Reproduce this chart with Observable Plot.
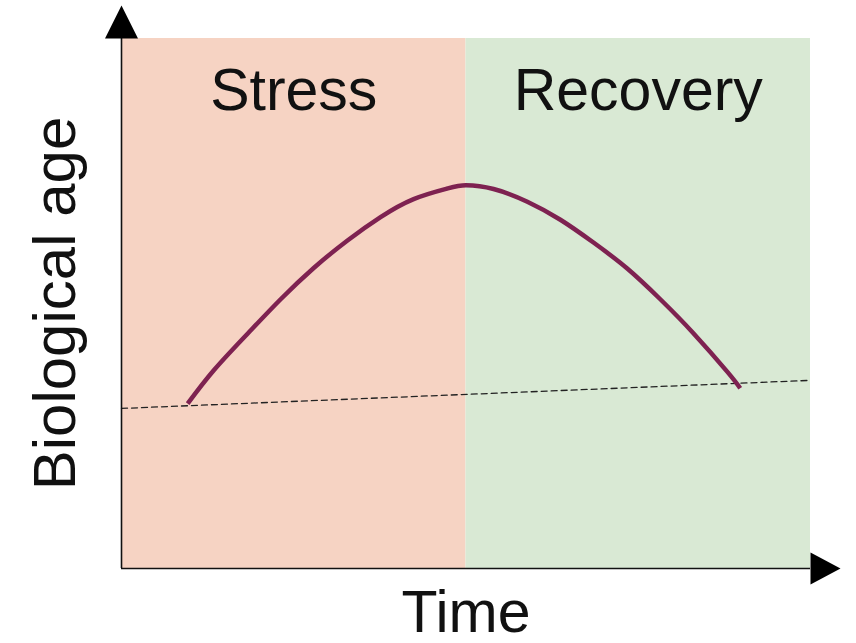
<!DOCTYPE html>
<html>
<head>
<meta charset="utf-8">
<script src="https://cdn.jsdelivr.net/npm/d3@7"></script>
<script src="https://cdn.jsdelivr.net/npm/@observablehq/plot@0.6"></script>
<style>
  html, body { margin: 0; padding: 0; background: #fff; }
  #chart { width: 856px; height: 643px; }
</style>
</head>
<body>
<div id="chart"></div>
<script>
// Phases (background bands)
const phaseNames = ["Stress", "Recovery"];
const phaseStart = [0, 5];
const phaseEnd = [5, 10];
const phaseLabelX = [2.5, 7.5];
const phaseLabelY = [9.0, 9.0];

// Biological age curve
const curveTime = [0.96, 1.34, 1.83, 2.31, 2.79, 3.28, 3.76, 4.24, 4.73, 5.0, 5.40, 5.89, 6.37, 6.85, 7.34, 7.82, 8.30, 8.80, 8.98];
const curveAge  = [3.11, 3.74, 4.43, 5.08, 5.67, 6.19, 6.63, 6.97, 7.17, 7.23, 7.16, 6.92, 6.58, 6.15, 5.66, 5.08, 4.44, 3.70, 3.40];

// Baseline (dashed) trend
const baseTime = [0, 10];
const baseAge = [3.02, 3.55];

// Axis labels
const xLabel = "Time";
const yLabel = "Biological age";

const bands = phaseNames.map((name, i) => ({name, x1: phaseStart[i], x2: phaseEnd[i], lx: phaseLabelX[i], ly: phaseLabelY[i]}));
const curve = curveTime.map((t, i) => ({t, a: curveAge[i]}));
const base = baseTime.map((t, i) => ({t, a: baseAge[i]}));

const upArrow = { draw(ctx) { ctx.moveTo(0, -33); ctx.lineTo(16.5, 0); ctx.lineTo(-16.5, 0); ctx.closePath(); } };
const rightArrow = { draw(ctx) { ctx.moveTo(30, 0); ctx.lineTo(0, -16); ctx.lineTo(0, 16); ctx.closePath(); } };

const font = "'Liberation Sans', Arial, Helvetica, sans-serif";

const chart = Plot.plot({
  width: 856,
  height: 643,
  marginLeft: 121,
  marginRight: 46,
  marginTop: 38,
  marginBottom: 75,
  x: {domain: [0, 10], axis: null},
  y: {domain: [0, 10], axis: null},
  style: {fontFamily: font, background: "#fff", overflow: "visible"},
  marks: [
    Plot.rect(bands, {x1: "x1", x2: "x2", y1: 0, y2: 10, fill: (d) => d.name === "Stress" ? "#f6d3c3" : "#d9e9d4"}),
    Plot.text(bands, {x: "lx", y: "ly", text: "name", fontSize: 59, fill: "#111", textAnchor: "middle", lineAnchor: "middle"}),
    Plot.line(base, {x: "t", y: "a", stroke: "#222", strokeWidth: 1.3, strokeDasharray: "6,4"}),
    Plot.line(curve, {x: "t", y: "a", curve: "natural", stroke: "#7e2251", strokeWidth: 4.5, strokeLinecap: "butt"}),
    Plot.ruleX([0], {y1: 0, y2: 10, stroke: "#111", strokeWidth: 1.6}),
    Plot.ruleY([0], {x1: 0, x2: 10, stroke: "#111", strokeWidth: 1.6}),
    Plot.dot([{x: 0, y: 10}], {x: "x", y: "y", symbol: upArrow, fill: "#000", stroke: "none"}),
    Plot.dot([{x: 10, y: 0}], {x: "x", y: "y", symbol: rightArrow, fill: "#000", stroke: "none"}),
    Plot.text([xLabel], {x: 5, y: 0, text: (d) => d, dy: 45, fontSize: 59, fill: "#111", textAnchor: "middle", lineAnchor: "middle"}),
    Plot.text([yLabel], {x: 0, y: 5, text: (d) => d, dx: -66, rotate: -90, fontSize: 60, fill: "#111", textAnchor: "middle", lineAnchor: "middle"})
  ]
});
document.getElementById("chart").appendChild(chart);
</script>
</body>
</html>
